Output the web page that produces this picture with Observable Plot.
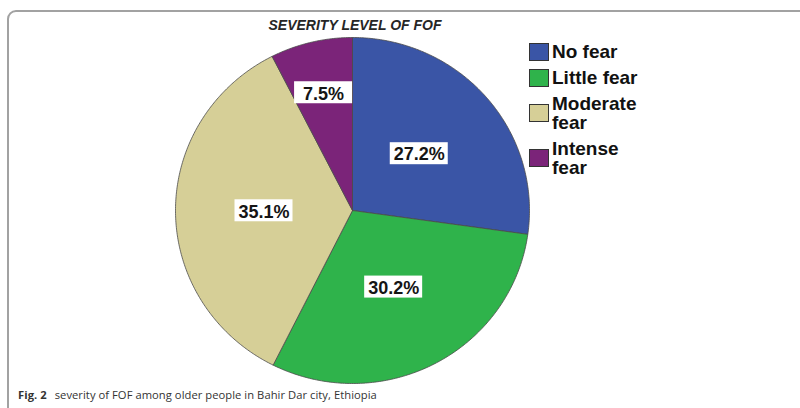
<!DOCTYPE html>
<html>
<head>
<meta charset="utf-8">
<script src="https://cdn.jsdelivr.net/npm/d3@7"></script>
<script src="https://cdn.jsdelivr.net/npm/@observablehq/plot@0.6"></script>
<style>
  body { margin: 0; background: #fff; }
  #wrap { position: relative; width: 800px; height: 408px; overflow: hidden; background: #fff; }
  #frame { position: absolute; left: 7px; top: 10px; width: 830px; height: 430px; box-sizing: border-box;
           border: 2.5px solid #a2a2a2; border-radius: 9px; }
  #title { position: absolute; left: 255px; top: 17px; width: 200px; text-align: center;
           font: italic bold 14px "Liberation Sans Narrow", "Liberation Sans", Arial, sans-serif; color: #262626; }
  #chart { position: absolute; left: 0; top: 0; }
  #legend { position: absolute; left: 529px; top: 42px; display: flex; flex-direction: column; gap: 7px;
            font: bold 19px "Liberation Sans", Arial, sans-serif; color: #111; }
  .item { display: flex; align-items: center; gap: 3px; line-height: 19px; }
  .sw { width: 18px; height: 16px; border: 1.5px solid #333; flex: none; }
  #caption { position: absolute; left: 18px; top: 387px; font: 11.2px "Open Sans", sans-serif; color: #333; white-space: nowrap; letter-spacing: 0.05px; }
  #caption b { margin-right: 8px; }
</style>
</head>
<body>
<div id="wrap">
  <div id="frame"></div>
  <div id="chart"></div>
  <div id="title">SEVERITY LEVEL OF FOF</div>
  <div id="legend"></div>
  <div id="caption"><b>Fig. 2</b>severity of FOF among older people in Bahir Dar city, Ethiopia</div>
</div>
<script>
const categories = ["No fear", "Little fear", "Moderate fear", "Intense fear"];
const legendLabels = [["No fear"], ["Little fear"], ["Moderate", "fear"], ["Intense", "fear"]];
const percents = [27.2, 30.2, 35.1, 7.5];
const colors = ["#3a55a6", "#2fb34b", "#d6cf97", "#7b2479"];

const data = categories.map((c, i) => ({ key: c, value: percents[i] }));
const arcs = d3.pie().sort(null).value(d => d.value)(data);

// slice outlines in unit-circle coordinates (angle 0 at 12 o'clock, clockwise)
const slicePts = [];
for (const a of arcs) {
  const key = a.data.key;
  slicePts.push({ key, x: 0, y: 0 });
  const n = Math.max(8, Math.ceil((a.endAngle - a.startAngle) / 0.01));
  for (let k = 0; k <= n; k++) {
    const t = a.startAngle + (a.endAngle - a.startAngle) * k / n;
    slicePts.push({ key, x: Math.sin(t), y: Math.cos(t) });
  }
  slicePts.push({ key, x: 0, y: 0 });
}

const xRange = [175, 529], yRange = [383, 37];
const pxPerX = (xRange[1] - xRange[0]) / 2, pxPerY = (yRange[0] - yRange[1]) / 2;
const labels = arcs.map(a => {
  const mid = (a.startAngle + a.endAngle) / 2;
  const r = a.data.value < 10 ? 0.7 : 0.5;
  return { key: a.data.key, text: a.data.value.toFixed(1) + "%", x: r * Math.sin(mid), y: r * Math.cos(mid) };
});
const bw = 29 / pxPerX, bh = 11 / pxPerY;

const chart = Plot.plot({
  width: 800,
  height: 408,
  margin: 0,
  style: { background: "transparent" },
  x: { domain: [-1, 1], range: xRange, axis: null },
  y: { domain: [-1, 1], range: yRange, axis: null },
  color: { domain: categories, range: colors },
  marks: [
    Plot.line(slicePts, { x: "x", y: "y", z: "key", fill: "key", stroke: "#4a4a4a", strokeWidth: 0.8, curve: "linear", strokeLinejoin: "round" }),
    Plot.rect(labels, { x1: d => d.x - bw, x2: d => d.x + bw, y1: d => d.y - bh, y2: d => d.y + bh, fill: "white" }),
    Plot.text(labels, { x: "x", y: "y", text: "text", fontSize: 18, fontWeight: "bold", fontFamily: "Liberation Sans, Arial, sans-serif", fill: "#151515", dy: 1 })
  ]
});
document.getElementById("chart").appendChild(chart);

const legend = document.getElementById("legend");
categories.forEach((c, i) => {
  const item = document.createElement("div");
  item.className = "item";
  const sw = document.createElement("div");
  sw.className = "sw";
  sw.style.background = colors[i];
  const tx = document.createElement("div");
  tx.innerHTML = legendLabels[i].join("<br>");
  item.appendChild(sw);
  item.appendChild(tx);
  legend.appendChild(item);
});
</script>
</body>
</html>
